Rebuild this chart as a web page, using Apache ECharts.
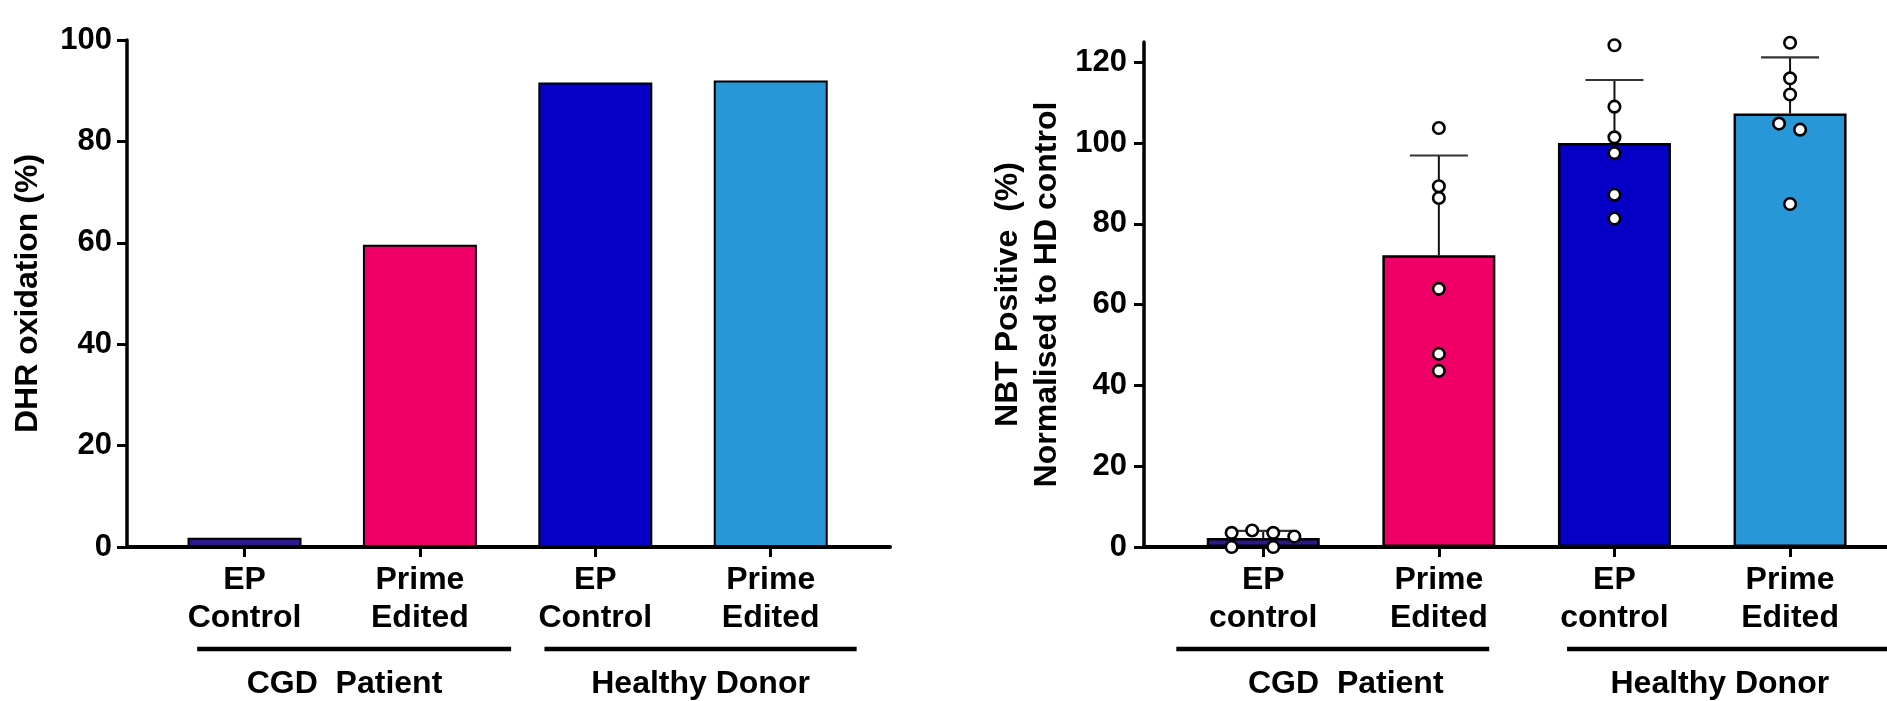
<!DOCTYPE html>
<html>
<head>
<meta charset="utf-8">
<script src="https://cdn.jsdelivr.net/npm/echarts@6/dist/echarts.min.js"></script>
<style>
  html, body { margin: 0; padding: 0; background: #fff; }
  #chart { width: 1887px; height: 701px; }
</style>
</head>
<body>
<div id="chart"></div>
<script>
// ---- data ----
const dhrCategories = ['EP\nControl', 'Prime\nEdited', 'EP\nControl', 'Prime\nEdited'];
const nbtCategories = ['EP\ncontrol', 'Prime\nEdited', 'EP\ncontrol', 'Prime\nEdited'];
const groupNames = ['CGD  Patient', 'Healthy Donor'];
const barColors = ['#2E198C', '#EE0066', '#0600C6', '#2897D8'];

const dhrTicks = [0, 20, 40, 60, 80, 100];
const nbtTicks = [0, 20, 40, 60, 80, 100, 120];

// DHR oxidation (%) per condition
const dhrValues = [1.8, 59.6, 91.6, 92.0];

// NBT positive, normalised to HD control: means and mean + SD
const nbtMeans = [2.2, 72.2, 100.0, 107.3];
const nbtSdTop = [4.0, 96.9, 115.6, 121.2];

// individual replicates per condition
const nbtDotsCgdEp = [3.5, 0.0, 4.1, 3.5, 0.0, 2.6];
const nbtDotsCgdPe = [103.7, 89.3, 86.4, 63.9, 47.8, 43.6];
const nbtDotsHdEp = [124.2, 109.0, 101.4, 97.5, 87.2, 81.3];
const nbtDotsHdPe = [124.8, 116.0, 112.0, 104.8, 103.3, 84.9];
// horizontal scatter of replicates, in category widths
const nbtDotsJitter = [
  [-0.18, -0.18, -0.063, 0.057, 0.057, 0.177],
  [0, 0, 0, 0, 0, 0],
  [0, 0, 0, 0, 0, 0],
  [0, 0, 0, -0.063, 0.057, 0]
];

// ---- styling ----
const FONT = '"Liberation Sans", Arial, Helvetica, sans-serif';
const tickFont = { fontFamily: FONT, fontWeight: 'bold', fontSize: 31, color: '#000' };
const catFont = { fontFamily: FONT, fontWeight: 'bold', fontSize: 32, lineHeight: 38, color: '#000' };

function xAxisFor(grid, cats, min, max) {
  return {
    gridIndex: grid, type: 'value', min: min, max: max,
    axisLine: { show: true, onZero: false, lineStyle: { color: '#000', width: 4 } },
    axisTick: { show: true, customValues: [0, 1, 2, 3], length: 10, lineStyle: { color: '#000', width: 3 } },
    axisLabel: Object.assign({ customValues: [0, 1, 2, 3], margin: 14, formatter: v => cats[Math.round(v)] }, catFont),
    splitLine: { show: false }
  };
}
function yAxisFor(grid, name, ticks, max, gap, labelMargin) {
  return {
    gridIndex: grid, type: 'value', min: 0, max: max,
    name: name, nameLocation: 'middle', nameRotate: 90, nameGap: gap,
    nameTextStyle: { fontFamily: FONT, fontWeight: 'bold', fontSize: 32, lineHeight: 39, color: '#000' },
    axisLine: { show: true, onZero: false, lineStyle: { color: '#000', width: 3.5 } },
    axisTick: { show: true, customValues: ticks, length: 10, lineStyle: { color: '#000', width: 3 } },
    axisLabel: Object.assign({ customValues: ticks, margin: labelMargin }, tickFont),
    splitLine: { show: false }
  };
}

const dhrBars = dhrValues.map((v, i) => ({
  value: [i, v],
  itemStyle: { color: barColors[i], borderColor: '#000', borderWidth: 2 }
}));
const nbtBars = nbtMeans.map((v, i) => ({
  value: [i, v],
  itemStyle: { color: barColors[i], borderColor: '#000', borderWidth: 2.5 }
}));
const nbtErr = nbtMeans.map((v, i) => [i, v, nbtSdTop[i]]);
const nbtDots = [];
[nbtDotsCgdEp, nbtDotsCgdPe, nbtDotsHdEp, nbtDotsHdPe].forEach((arr, i) => {
  arr.forEach((v, j) => nbtDots.push([i + nbtDotsJitter[i][j], v]));
});

const chart = echarts.init(document.getElementById('chart'), null, { renderer: 'canvas' });
chart.setOption({
  animation: false,
  backgroundColor: '#fff',
  grid: [
    { left: 127, right: 997, top: 40, bottom: 154 },
    { left: 1144, right: 0, top: 42, bottom: 154 }
  ],
  xAxis: [
    xAxisFor(0, dhrCategories, -0.670, 3.68),
    xAxisFor(1, nbtCategories, -0.679, 3.552)
  ],
  yAxis: [
    yAxisFor(0, 'DHR oxidation (%)', dhrTicks, 100, 79, 15),
    yAxisFor(1, 'NBT Positive  (%)\nNormalised to HD control', nbtTicks, 125, 77, 17)
  ],
  series: [
    { type: 'bar', xAxisIndex: 0, yAxisIndex: 0, barWidth: 114, data: dhrBars, z: 2 },
    { type: 'bar', xAxisIndex: 1, yAxisIndex: 1, barWidth: 113, data: nbtBars, z: 2 },
    {
      type: 'custom', xAxisIndex: 1, yAxisIndex: 1, data: nbtErr, z: 3,
      encode: { x: 0, y: [1, 2] },
      renderItem: function (params, api) {
        const base = api.coord([api.value(0), api.value(1)]);
        const top = api.coord([api.value(0), api.value(2)]);
        return {
          type: 'group',
          children: [
            { type: 'line', shape: { x1: base[0], y1: base[1], x2: top[0], y2: top[1] },
              style: { stroke: '#111', lineWidth: 2 } },
            { type: 'line', shape: { x1: top[0] - 29, y1: top[1], x2: top[0] + 29, y2: top[1] },
              style: { stroke: '#333', lineWidth: 2.2 } }
          ]
        };
      }
    },
    {
      type: 'scatter', xAxisIndex: 1, yAxisIndex: 1, data: nbtDots, z: 4,
      symbol: 'circle', symbolSize: 11.5,
      itemStyle: { color: '#fff', borderColor: '#000', borderWidth: 2.6, opacity: 1 }
    }
  ]
});

// group brackets and captions beneath each set of categories
const dhrSpans = [[-0.27, 1.52], [1.71, 3.49]];
const nbtSpans = [[-0.495, 1.287], [1.73, 3.56]];
const dhrGroupLabelAt = [0.57, 2.6];
const nbtGroupLabelAt = [0.47, 2.6];
function groupGraphics(grid, spans, labelAt) {
  const out = [];
  const zeroY = chart.convertToPixel({ xAxisIndex: grid, yAxisIndex: grid }, [0, 0])[1];
  spans.forEach((s, k) => {
    const a = chart.convertToPixel({ xAxisIndex: grid, yAxisIndex: grid }, [s[0], 0])[0];
    const b = chart.convertToPixel({ xAxisIndex: grid, yAxisIndex: grid }, [s[1], 0])[0];
    const c = chart.convertToPixel({ xAxisIndex: grid, yAxisIndex: grid }, [labelAt[k], 0])[0];
    out.push({
      type: 'line', shape: { x1: a, y1: zeroY + 102, x2: b, y2: zeroY + 102 },
      style: { stroke: '#000', lineWidth: 4.5 }
    });
    out.push({
      type: 'text', x: c, y: zeroY + 137,
      style: { text: groupNames[k], align: 'center', verticalAlign: 'middle',
        fontFamily: FONT, fontWeight: 'bold', fontSize: 32, fill: '#000' }
    });
  });
  return out;
}
chart.setOption({
  graphic: groupGraphics(0, dhrSpans, dhrGroupLabelAt).concat(groupGraphics(1, nbtSpans, nbtGroupLabelAt))
});
</script>
</body>
</html>
